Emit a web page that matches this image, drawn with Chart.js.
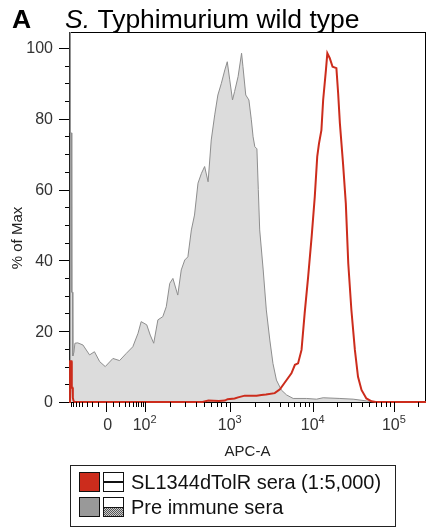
<!DOCTYPE html>
<html><head><meta charset="utf-8">
<script src="https://cdn.jsdelivr.net/npm/chart.js@4/dist/chart.umd.min.js"></script>
<style>html,body{margin:0;padding:0;background:#fff}#wrap{width:427px;height:529px;position:relative}</style>
</head><body><div id="wrap"><canvas id="c"></canvas></div>
<script>
// ---- data (histogram channels 0..1024 on the biexponential APC-A axis, % of max) ----
const preImmuneChannel = [0,3,3,4,4,7,8,10,11,14,17,25,40,59,73,88,104,126,145,164,183,198,207,223,233,243,255,269,279,289,298,312,322,332,341,351,360,370,380,389,399,408,418,427,437,447,454,461,469,475,485,495,499,507,516,523,528,533,539,543,547,557,566,576,585,595,609,624,643,681,710,729,777,815,854,877,1024];
const preImmunePct     = [0,0,130,130,76,76,31,31,13,14,16.6,16.7,16.1,13.3,14.2,11.4,10.0,12.3,11.7,13.7,15.6,19.4,22.7,21.8,18.9,16.6,23.2,24.1,26.9,33.5,34.9,30.2,37.3,40.1,41.0,48.6,52.8,61.8,64.6,66.5,62.2,74.0,81.1,86.7,90.0,93.8,96.1,91.0,85.3,87.7,91.9,98.5,94.7,86.7,85.3,79.7,74.9,72.1,71.5,60,48.6,37.3,26.0,17.5,10.9,6.2,3.4,2.0,1.0,1.0,0.8,1.2,1.0,0.8,0.3,0,0];
const immuneChannel = [0,3,3,7,8,10,11,13,17,383,400,430,447,455,475,485,504,538,552,565,590,605,619,638,648,657,667,676,686,696,705,712,717,724,729,737,741,748,756,767,772,777,786,794,801,810,820,829,839,853,868,880,1024];
const immunePct     = [0,0,11.5,11.5,4,4,1.2,0.3,0,0,0.4,0.3,0.4,0.8,1.0,1.3,1.8,1.8,2.0,2.1,2.5,3.6,5.5,8.1,10.5,10.9,14.7,25.1,35.4,46.7,58.0,69.3,73.0,76.8,85.3,93.8,98.5,97.1,94.7,94.3,87.2,78.7,67.4,56.1,39.2,26.0,14.7,7.1,3.4,1.0,0.2,0,0];

const seriesNames = ['SL1344dTolR sera (1:5,000)', 'Pre immune sera'];
const yTickValues = [0, 20, 40, 60, 80, 100];
const xTickValues = [0, 1e2, 1e3, 1e4, 1e5];
const xTickBase   = ['0', '10', '10', '10', '10'];
const xTickExp    = ['', '2', '3', '4', '5'];

// axis transform: data value -> display channel
const ZERO_CH = 105, DECADE_CH = [217, 461, 699, 932]; // channels of 0, 1e2..1e5
function channelOf(v) {
  if (v >= 100) {
    const d = Math.log10(v);
    const i = Math.min(Math.floor(d) - 2, 2);
    return DECADE_CH[i] + (DECADE_CH[i + 1] - DECADE_CH[i]) * (d - (i + 2));
  }
  return ZERO_CH + (DECADE_CH[0] - ZERO_CH) * Math.asinh(v / 25) / Math.asinh(100 / 25);
}
const xMinorValues = [];
for (let k = -9; k <= 9; k++) if (k !== 0) xMinorValues.push(k * 10);
for (let d = 2; d <= 5; d++) for (let k = 2; k <= 9; k++) xMinorValues.push(k * Math.pow(10, d));

const RED = '#cc2c1c';
const FONT = '"Liberation Sans", Arial, Helvetica, sans-serif';

const drawPlugin = {
  id: 'flowDecor',
  beforeDraw(chart) {
    const ctx = chart.ctx;
    ctx.save(); ctx.fillStyle = '#fff'; ctx.fillRect(0, 0, chart.width, chart.height); ctx.restore();
  },
  beforeDatasetsDraw(chart) {
    const ctx = chart.ctx, ca = chart.chartArea;
    ctx.save();
    ctx.strokeStyle = '#000'; ctx.lineWidth = 1;
    ctx.strokeRect(Math.round(ca.left) + 0.5, Math.round(ca.top) + 0.5, Math.round(ca.right - ca.left) - 1, Math.round(ca.bottom - ca.top));
    ctx.restore();
  },
  afterDraw(chart) {
    const ctx = chart.ctx, ca = chart.chartArea, xs = chart.scales.x, ys = chart.scales.y;
    ctx.save();
    ctx.strokeStyle = '#000'; ctx.lineWidth = 1;
    // y ticks
    for (let v = 0; v <= 100; v += 5) {
      const y = Math.round(ys.getPixelForValue(v)) + 0.5;
      const len = (v % 20 === 0) ? 10 : 4;
      ctx.beginPath(); ctx.moveTo(ca.left - len, y); ctx.lineTo(ca.left, y); ctx.stroke();
    }
    ctx.fillStyle = '#333'; ctx.font = '16px ' + FONT; ctx.textAlign = 'right'; ctx.textBaseline = 'middle';
    yTickValues.forEach(v => ctx.fillText(String(v), 53, ys.getPixelForValue(v) + 1));
    // x ticks
    const bottom = Math.round(ca.bottom);
    const drawXTick = (v, len) => {
      const x = Math.round(xs.getPixelForValue(channelOf(v))) + 0.5;
      if (x < ca.left || x > ca.right) return;
      ctx.beginPath(); ctx.moveTo(x, bottom); ctx.lineTo(x, bottom + len); ctx.stroke();
    };
    xMinorValues.forEach(v => drawXTick(v, 5));
    xTickValues.forEach(v => drawXTick(v, 10));
    ctx.textAlign = 'left'; ctx.textBaseline = 'alphabetic';
    xTickValues.forEach((v, i) => {
      const x = xs.getPixelForValue(channelOf(v));
      ctx.font = '16px ' + FONT; const bw = ctx.measureText(xTickBase[i]).width;
      ctx.font = '11px ' + FONT; const sw = xTickExp[i] ? ctx.measureText(xTickExp[i]).width : 0;
      const x0 = x - (bw + sw) / 2 + (i === 0 ? 2 : 0);
      ctx.font = '16px ' + FONT; ctx.fillText(xTickBase[i], x0, 430);
      if (sw) { ctx.font = '11px ' + FONT; ctx.fillText(xTickExp[i], x0 + bw, 423); }
    });
    // axis titles
    ctx.fillStyle = '#222';
    ctx.font = '15px ' + FONT; ctx.textAlign = 'center';
    ctx.fillText('APC-A', (ca.left + ca.right) / 2, 456);
    ctx.save(); ctx.translate(22, 238); ctx.rotate(-Math.PI / 2);
    ctx.textBaseline = 'alphabetic'; ctx.fillText('% of Max', 0, 0); ctx.restore();
    // title
    ctx.fillStyle = '#000'; ctx.textAlign = 'left';
    ctx.font = 'bold 26.5px ' + FONT; ctx.fillText('A', 12, 28);
    ctx.font = 'italic 26.5px ' + FONT; ctx.fillText('S.', 65, 28);
    const sW = ctx.measureText('S.').width;
    ctx.font = '26.5px ' + FONT; ctx.fillText(' Typhimurium wild type', 65 + sW, 28);
    // legend
    ctx.strokeStyle = '#222'; ctx.lineWidth = 1;
    ctx.strokeRect(70.5, 465.5, 325, 61);
    const rows = [472, 497];
    // row 1
    ctx.fillStyle = RED; ctx.fillRect(79, rows[0], 21, 20);
    ctx.strokeStyle = '#111'; ctx.strokeRect(79.5, rows[0] + 0.5, 20, 19);
    ctx.fillStyle = '#fff'; ctx.fillRect(103, rows[0], 21, 20);
    ctx.strokeRect(103.5, rows[0] + 0.5, 20, 19);
    ctx.lineWidth = 2; ctx.beginPath(); ctx.moveTo(103, rows[0] + 10); ctx.lineTo(124, rows[0] + 10); ctx.stroke();
    ctx.lineWidth = 1;
    // row 2
    ctx.fillStyle = '#999'; ctx.fillRect(79, rows[1], 21, 20);
    ctx.strokeRect(79.5, rows[1] + 0.5, 20, 19);
    ctx.fillStyle = '#fff'; ctx.fillRect(103, rows[1], 21, 20);
    for (let yy = rows[1] + 11; yy < rows[1] + 20; yy++) for (let xx = 104; xx < 124; xx++) {
      ctx.fillStyle = ((xx + yy) % 2 === 0) ? '#555' : '#ccc'; ctx.fillRect(xx, yy, 1, 1);
    }
    ctx.strokeRect(103.5, rows[1] + 0.5, 20, 19);
    ctx.beginPath(); ctx.moveTo(103, rows[1] + 10.5); ctx.lineTo(124, rows[1] + 10.5); ctx.stroke();
    ctx.fillStyle = '#111'; ctx.font = '20px ' + FONT; ctx.textBaseline = 'middle';
    ctx.fillText(seriesNames[0], 131, rows[0] + 11);
    ctx.fillText(seriesNames[1], 131, rows[1] + 11);
    ctx.restore();
  }
};

new Chart(document.getElementById('c'), {
  type: 'line',
  data: {
    datasets: [
      { label: seriesNames[0], data: immuneChannel.map((c, i) => ({ x: c, y: immunePct[i] })),
        borderColor: RED, borderWidth: 2, fill: false, order: 0, clip: 2 },
      { label: seriesNames[1], data: preImmuneChannel.map((c, i) => ({ x: c, y: preImmunePct[i] })),
        borderColor: '#8e8e8e', borderWidth: 1, backgroundColor: '#dcdcdc', fill: 'origin', order: 1 }
    ]
  },
  options: {
    responsive: true, maintainAspectRatio: false, animation: false, devicePixelRatio: 1,
    layout: { padding: { left: 69, top: 32, right: 1, bottom: 127 } },
    elements: { point: { radius: 0 }, line: { tension: 0 } },
    plugins: { legend: { display: false }, tooltip: { enabled: false }, title: { display: false } },
    scales: {
      x: { type: 'linear', min: 0, max: 1024, display: false },
      y: { type: 'linear', min: 0, max: 104.5, display: false }
    }
  },
  plugins: [drawPlugin]
});
</script></body></html>
